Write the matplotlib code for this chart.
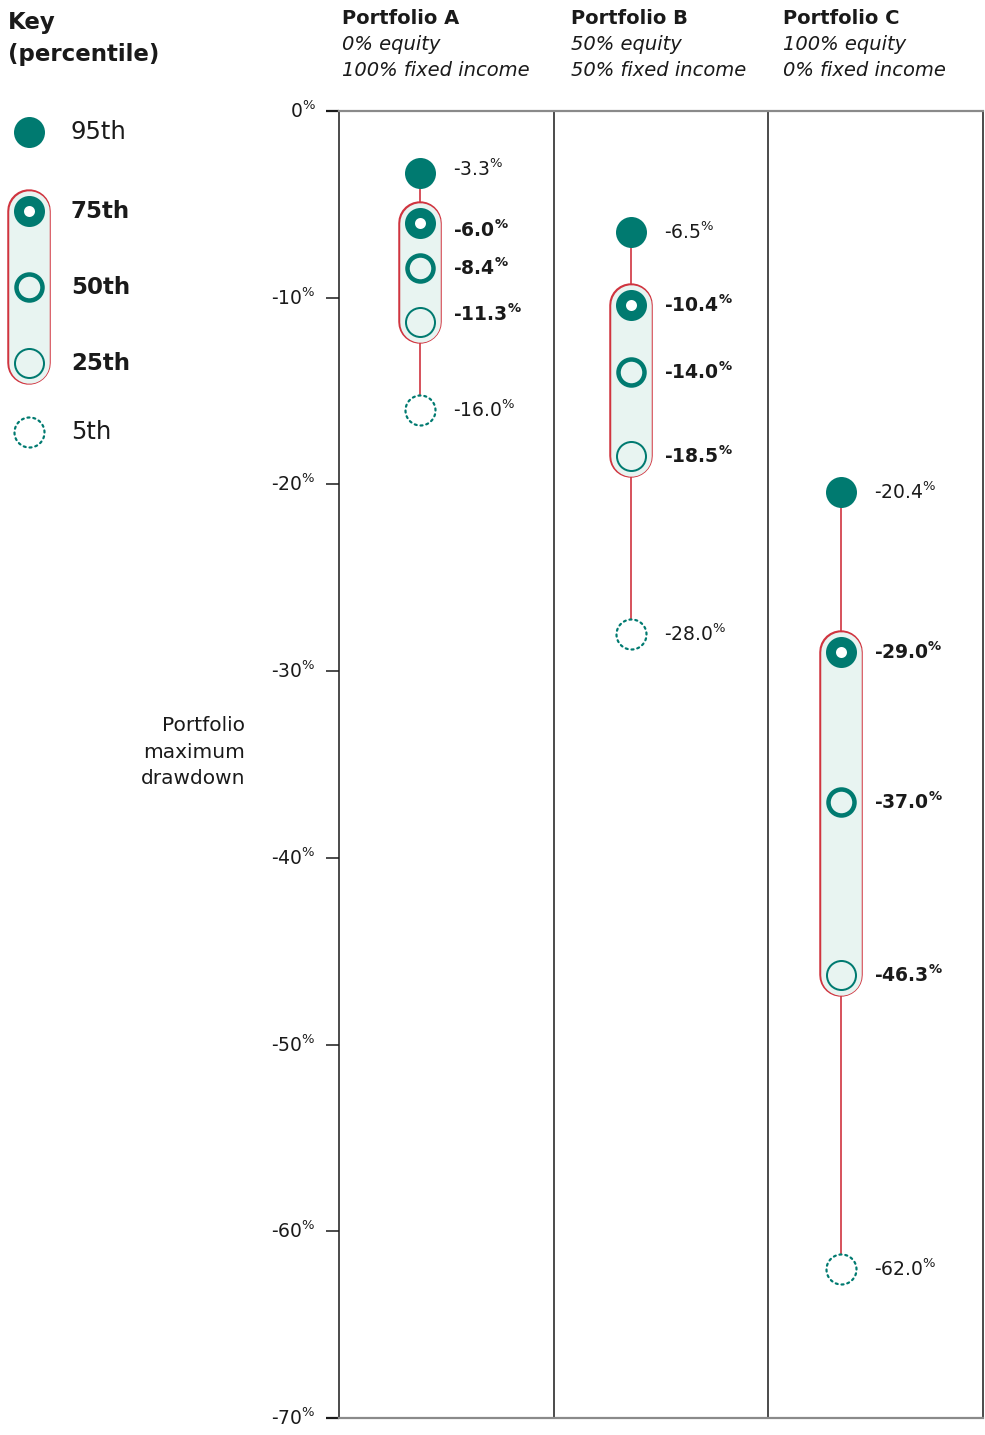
import numpy as np
import matplotlib.pyplot as plt
from matplotlib.path import Path
from matplotlib.markers import MarkerStyle

plt.rcParams['font.family'] = ['DejaVu Sans']
plt.rcParams['mathtext.fontset'] = 'dejavusans'

# drawdown percentiles for each portfolio
portfolios = ['Portfolio A', 'Portfolio B', 'Portfolio C']
equity = ['0% equity', '50% equity', '100% equity']
fixed_income = ['100% fixed income', '50% fixed income', '0% fixed income']
p95 = [-3.3, -6.5, -20.4]
p75 = [-6.0, -10.4, -29.0]
p50 = [-8.4, -14.0, -37.0]
p25 = [-11.3, -18.5, -46.3]
p5 = [-16.0, -28.0, -62.0]
yticks = [0, -10, -20, -30, -40, -50, -60, -70]
key_labels = ['95th', '75th', '50th', '25th', '5th']

TEAL = '#007a70'
RED = '#d0343f'
PALE = '#e8f4f1'
INK = '#1a1a1a'
GREY = '#8a8a8a'

W, H = 985, 1435
PX = 72 / 100  # points per pixel

PCT = r'$^{\%}$'
PCT_BOLD = r'$\mathbf{^{\%}}$'


def dotted_circle(n=16, frac=0.35):
    verts, codes = [], []
    for i in range(n):
        t = np.linspace(2 * np.pi * i / n, 2 * np.pi * (i + frac) / n, 4)
        verts.extend(np.column_stack([np.cos(t), np.sin(t)]))
        codes.extend([Path.MOVETO] + [Path.LINETO] * 3)
    return MarkerStyle(Path(verts, codes), capstyle='round')


# marker look per percentile: (marker, size px, edge px, face)
STYLES = {
    '95th': ('o', 31, 0, TEAL),
    '75th': ('o', 21, 10, 'white'),
    '50th': ('o', 26, 4.5, PALE),
    '25th': ('o', 29, 2, PALE),
    '5th': (dotted_circle(), 30, 2.2, 'none'),
}


def draw_marker(ax, x, y, key):
    m, size, edge, face = STYLES[key]
    if key == '5th':
        # white disc underneath so the whisker stops at the dotted ring
        ax.plot([x], [y], linestyle='none', marker='o', ms=size * PX, mew=0,
                mfc='white', zorder=5, clip_on=False)
    ax.plot([x], [y], linestyle='none', marker=m, ms=size * PX, mew=edge * PX,
            mec=TEAL, mfc=face, zorder=6, clip_on=False)


def draw_capsule(ax, x, y0, y1):
    ax.plot([x, x], [y0, y1], color=RED, lw=43.5 * PX, solid_capstyle='round',
            zorder=3, clip_on=False)
    ax.plot([x, x], [y0, y1], color=PALE, lw=40.5 * PX, solid_capstyle='round',
            zorder=4, clip_on=False)


fig = plt.figure(figsize=(W / 100, H / 100), dpi=100)

# overlay in pixel units for the key and headers
ov = fig.add_axes([0, 0, 1, 1])
ov.set_xlim(0, W)
ov.set_ylim(H, 0)
ov.axis('off')

L, R, T, B = 339, 983, 111, 1418
ax = fig.add_axes([L / W, 1 - B / H, (R - L) / W, (B - T) / H])
ax.set_xlim(0, 3)
ax.set_ylim(-70, 0)
ax.patch.set_alpha(0)

for side in ['left', 'right']:
    ax.spines[side].set_color(INK)
    ax.spines[side].set_linewidth(1.1)
for side in ['top', 'bottom']:
    ax.spines[side].set_color(GREY)
    ax.spines[side].set_linewidth(1.6)
for xc in [1, 2]:
    ax.axvline(xc, color=INK, lw=1.1, zorder=1)

ax.set_xticks([])
ax.set_yticks(yticks)
ax.set_yticklabels([])
ax.tick_params(axis='y', length=13 * PX, width=1.1, color=INK)
for tick, v in zip(ax.yaxis.get_major_ticks(), yticks):
    if v in (0, -70):
        tick.tick1line.set_color(GREY)
        tick.tick1line.set_markeredgewidth(1.6)

FS = 13.5
ytr = ax.get_yaxis_transform()
for v in yticks:
    ax.annotate(str(v) + PCT, xy=(0, v), xycoords=ytr,
                xytext=(-23 * PX, -7 * PX), textcoords='offset points',
                ha='right', va='baseline', fontsize=FS, color=INK,
                annotation_clip=False)

# marker column positions inside each portfolio band
xpos = [0.377, 1.360, 2.338]
# small vertical nudges (px) so crowded labels don't collide
nudge = {(0, '95th'): -4, (0, '75th'): 7, (0, '25th'): -8}

for i, x in enumerate(xpos):
    ax.plot([x, x], [p95[i], p5[i]], color=RED, lw=1.2, zorder=2)
    draw_capsule(ax, x, p75[i], p25[i])
    for key, vals in zip(key_labels, [p95, p75, p50, p25, p5]):
        v = vals[i]
        draw_marker(ax, x, v, key)
        bold = key in ('75th', '50th', '25th')
        dy = nudge.get((i, key), 0)
        ax.annotate('%.1f' % v + (PCT_BOLD if bold else PCT), xy=(x, v),
                    xytext=(33 * PX, -(7 + dy) * PX), textcoords='offset points',
                    ha='left', va='baseline', fontsize=FS, color=INK,
                    fontweight='bold' if bold else 'normal')

# column headers
head_x = [342, 571, 783]
for hx, name, eq, fi in zip(head_x, portfolios, equity, fixed_income):
    ov.text(hx, 18, name, fontsize=14, fontweight='bold', color=INK,
            ha='left', va='center')
    ov.text(hx, 45, eq, fontsize=14, style='italic', color=INK,
            ha='left', va='center')
    ov.text(hx, 71, fi, fontsize=14, style='italic', color=INK,
            ha='left', va='center')

ov.text(245, 752, 'Portfolio\nmaximum\ndrawdown', fontsize=14.5, color=INK,
        ha='right', va='center', multialignment='right', linespacing=1.5)

# key
ov.text(8, 22, 'Key', fontsize=16.5, fontweight='bold', color=INK, va='center')
ov.text(8, 54, '(percentile)', fontsize=16.5, fontweight='bold', color=INK,
        va='center')
key_y = [132, 211, 287, 363, 432]
draw_capsule(ov, 29, key_y[1], key_y[3])
for ky, lab in zip(key_y, key_labels):
    draw_marker(ov, 29, ky, lab)
    bold = lab in ('75th', '50th', '25th')
    ov.text(71, ky, lab, fontsize=16.5 if bold else 17.5, color=INK,
            va='center', fontweight='bold' if bold else 'normal')

fig.savefig('out.png', dpi=100)
